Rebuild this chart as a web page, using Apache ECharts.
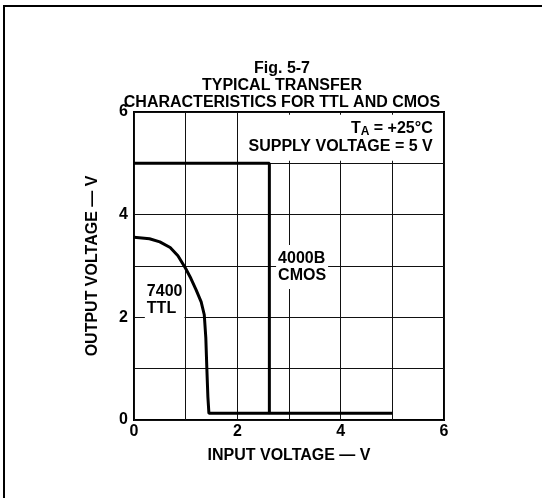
<!DOCTYPE html>
<html>
<head>
<meta charset="utf-8">
<script src="https://cdn.jsdelivr.net/npm/echarts@6/dist/echarts.min.js"></script>
<style>
html,body{margin:0;padding:0;background:#fff;}
#chart{width:542px;height:498px;}
</style>
</head>
<body>
<div id="chart"></div>
<script>
// ---- data ----
var titleLines = ['Fig. 5-7', 'TYPICAL TRANSFER', 'CHARACTERISTICS FOR TTL AND CMOS'];
var xAxisTitle = 'INPUT VOLTAGE — V';
var yAxisTitle = 'OUTPUT VOLTAGE — V';
var ttlInput  = [0, 0.3, 0.5, 0.7, 0.85, 1.0, 1.1, 1.2, 1.3, 1.36, 1.39, 1.41, 1.43, 1.45, 2.62];
var ttlOutput = [3.56, 3.53, 3.47, 3.36, 3.2, 2.95, 2.76, 2.54, 2.3, 2.05, 1.6, 1.0, 0.45, 0.13, 0.13];
var cmosInput  = [0, 2.62, 2.62, 5.0];
var cmosOutput = [5.0, 5.0, 0.13, 0.13];
var ttlLabel = ['7400', 'TTL'];
var ttlLabelAt = [0.21, 2.33];
var cmosLabel = ['4000B', 'CMOS'];
var cmosLabelAt = [2.75, 2.98];
var condLabelAt = [5.82, 5.50];

function pairs(xs, ys){ return xs.map(function(x,i){ return [x, ys[i]]; }); }

var font = '"Liberation Sans", Arial, Helvetica, sans-serif';
var fs = 16;
var chart = echarts.init(document.getElementById('chart'));
var gridStyle = {color:'#111', width:1};

chart.setOption({
  animation:false,
  backgroundColor:'#fff',
  title:{
    text: titleLines.join('\n'),
    left: 277, top: 55, textAlign:'center',
    textStyle:{fontFamily:font, fontWeight:'bold', fontSize:fs, color:'#000', lineHeight:17}
  },
  grid:{left:134, right:98, top:112, bottom:78, show:true, borderColor:'#000', borderWidth:2, backgroundColor:'transparent'},
  xAxis:{
    type:'value', min:0, max:6, interval:1,
    name:xAxisTitle, nameLocation:'middle', nameGap:28,
    nameTextStyle:{fontFamily:font, fontWeight:'bold', fontSize:fs, color:'#000'},
    axisLine:{show:false}, axisTick:{show:false},
    axisLabel:{fontFamily:font, fontWeight:'bold', fontSize:fs, color:'#000', margin:4,
      formatter:function(v){ return v % 2 === 0 ? String(v) : ''; }},
    splitLine:{show:true, lineStyle:gridStyle}
  },
  yAxis:{
    type:'value', min:0, max:6, interval:1,
    name:yAxisTitle, nameLocation:'middle', nameGap:33,
    nameTextStyle:{fontFamily:font, fontWeight:'bold', fontSize:fs, color:'#000'},
    axisLine:{show:false}, axisTick:{show:false},
    axisLabel:{fontFamily:font, fontWeight:'bold', fontSize:fs, color:'#000', margin:6,
      formatter:function(v){ return v % 2 === 0 ? String(v) : ''; }},
    splitLine:{show:true, lineStyle:gridStyle}
  },
  graphic:[
    {type:'line', shape:{x1:3, y1:6, x2:542, y2:6}, style:{stroke:'#000', lineWidth:2}},
    {type:'line', shape:{x1:4, y1:6, x2:4, y2:498}, style:{stroke:'#000', lineWidth:2}}
  ],
  series:[
    {type:'line', name:'7400 TTL', data:pairs(ttlInput, ttlOutput), showSymbol:false, symbol:'none',
      lineStyle:{color:'#000', width:3}, z:5,
      markPoint:{symbol:'rect', symbolSize:0, silent:true,
        data:[{coord:ttlLabelAt, value:'ttl'}],
        label:{show:true, position:'right', distance:0, formatter:ttlLabel.join('\n'),
          fontFamily:font, fontWeight:'bold', fontSize:fs, color:'#000', lineHeight:17,
          backgroundColor:'#fff', padding:[3,2,2,2]}}
    },
    {type:'line', name:'4000B CMOS', data:pairs(cmosInput, cmosOutput), showSymbol:false, symbol:'none',
      lineStyle:{color:'#000', width:3}, z:5,
      markPoint:{symbol:'rect', symbolSize:0, silent:true,
        data:[
          {coord:cmosLabelAt, value:'c', label:{formatter:cmosLabel.join('\n'), position:'right', distance:0, align:'left', padding:[5,2,5,2]}},
          {coord:condLabelAt, value:'t', label:{position:'left', distance:0, align:'right', padding:[5,2,5,2],
            formatter:'{t|T}{s|A}{t| = +25°C}\n{t|SUPPLY VOLTAGE = 5 V}'}}
        ],
        label:{show:true, fontFamily:font, fontWeight:'bold', fontSize:fs, color:'#000', lineHeight:17,
          backgroundColor:'#fff',
          rich:{
            t:{fontFamily:font, fontWeight:'bold', fontSize:fs, color:'#000', lineHeight:18},
            s:{fontFamily:font, fontWeight:'bold', fontSize:12, color:'#000', lineHeight:18, verticalAlign:'bottom', padding:[6,0,0,0]}
          }}}
    }
  ]
});
</script>
</body>
</html>
